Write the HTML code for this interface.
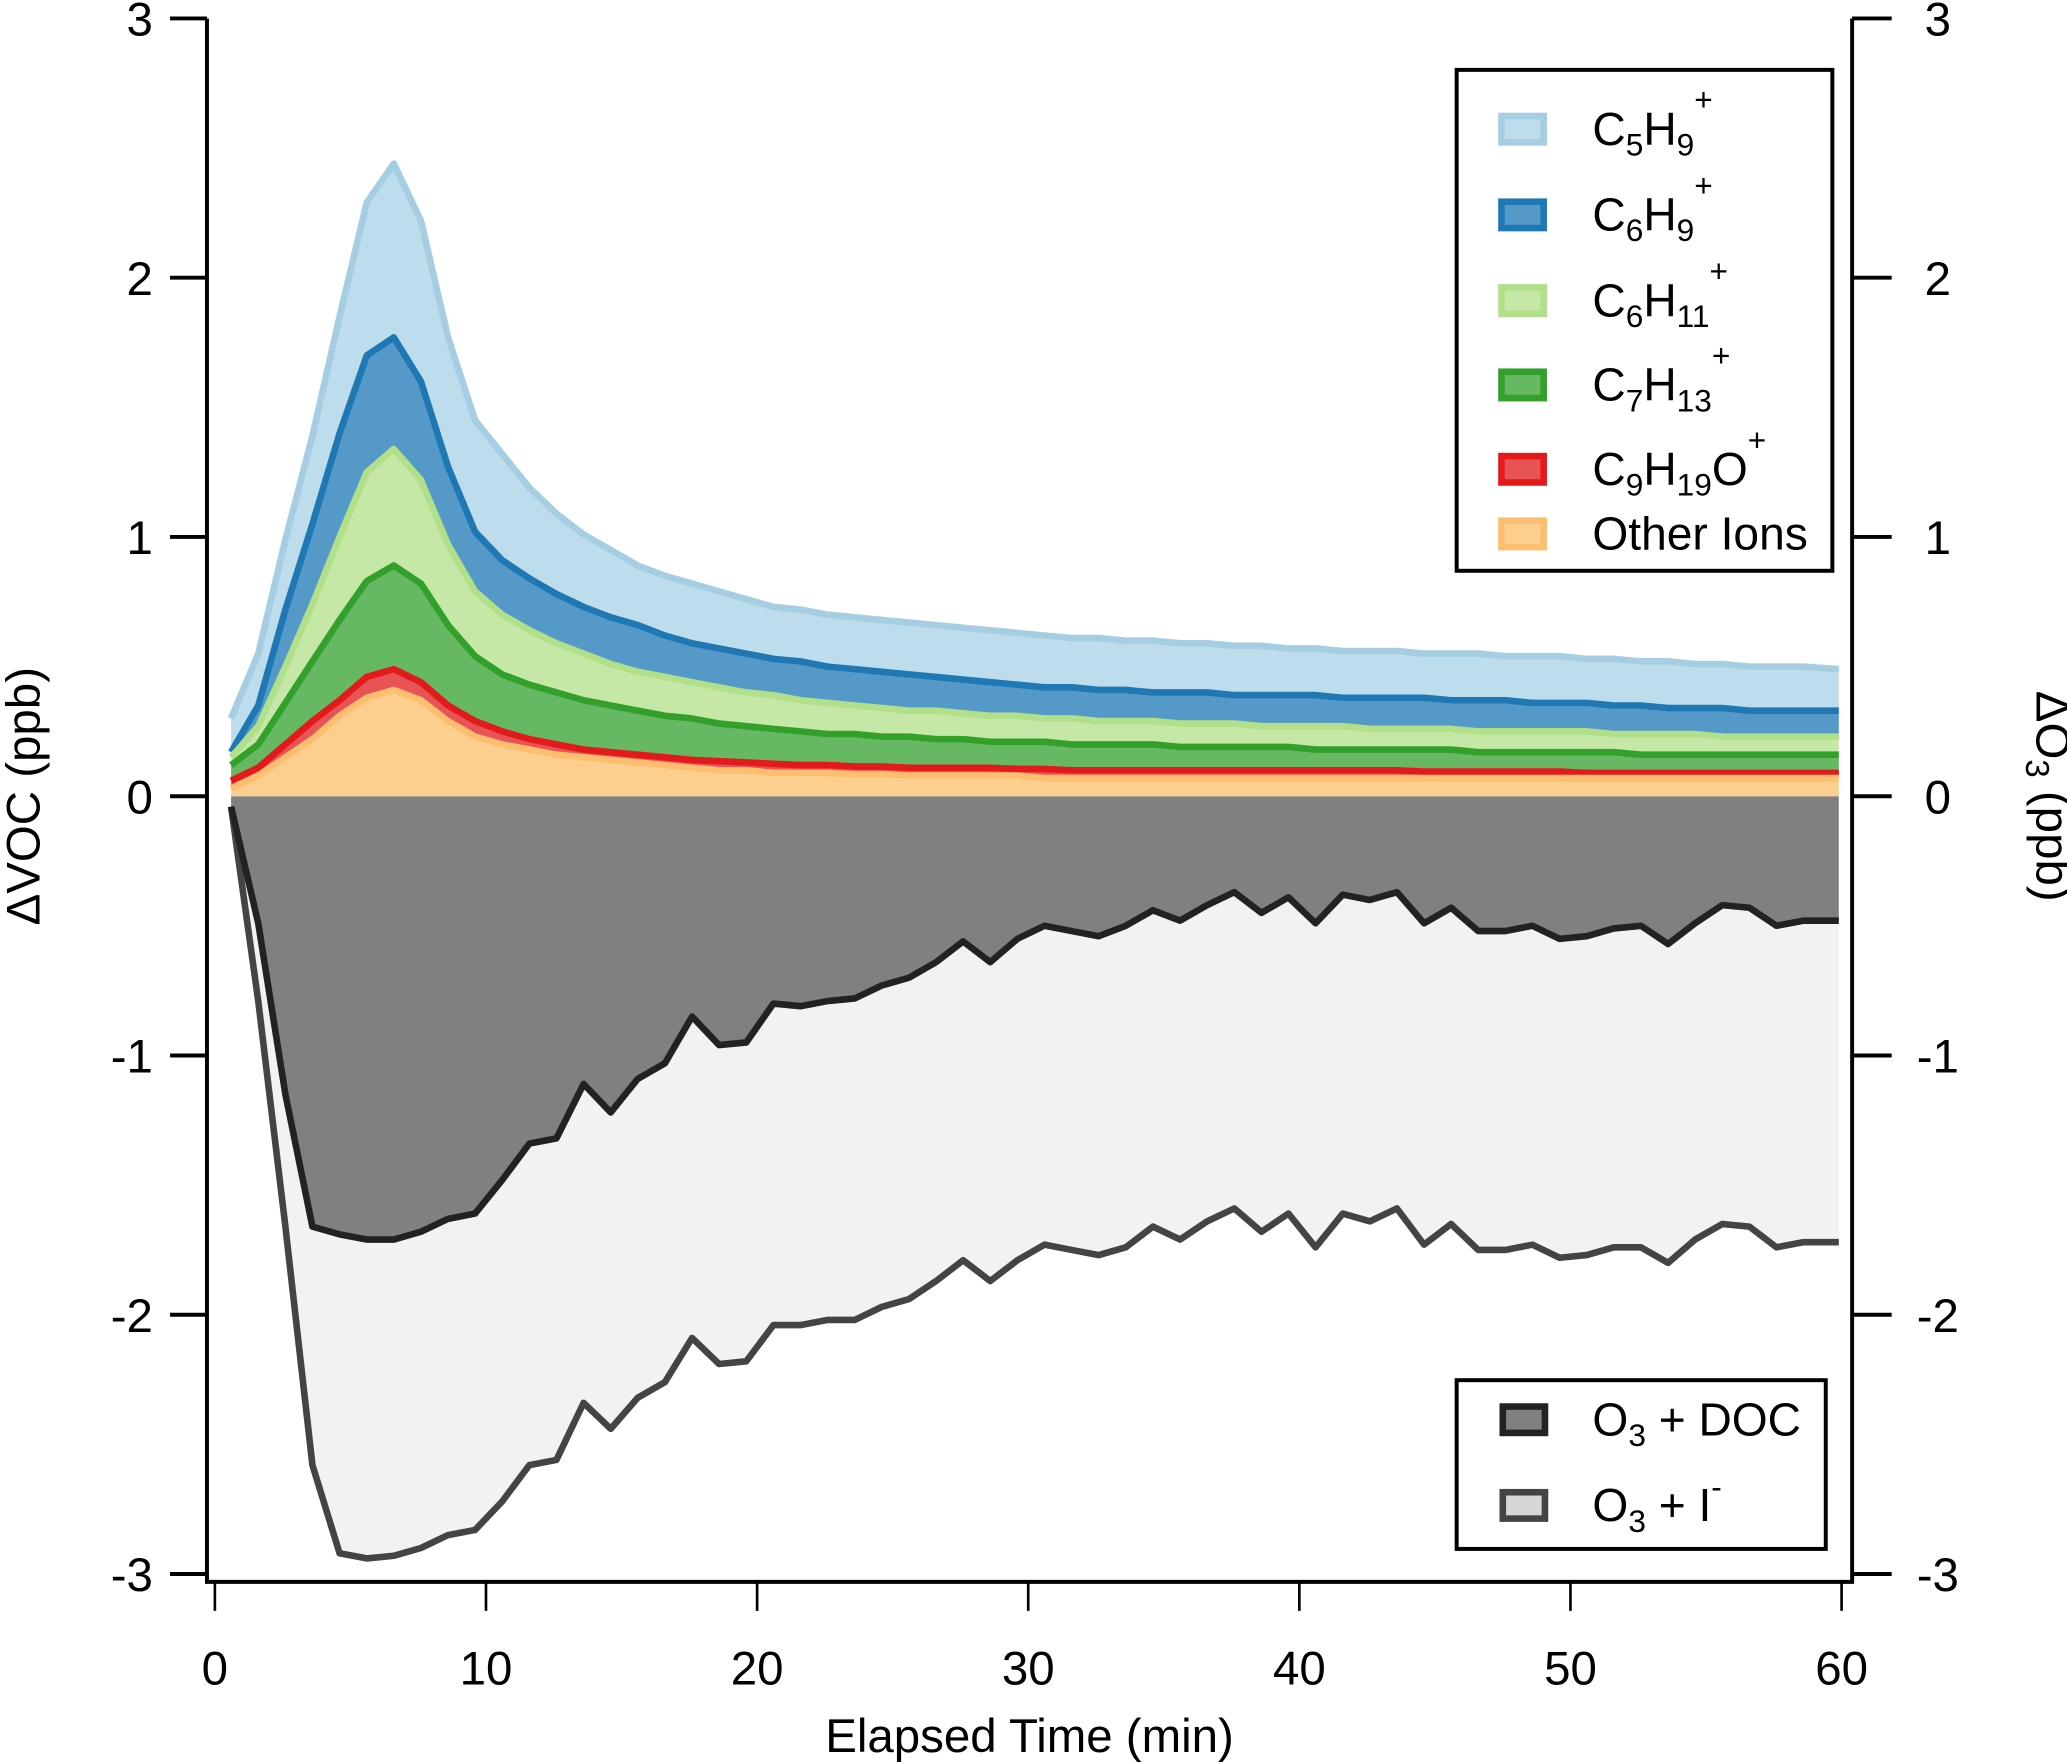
<!DOCTYPE html>
<html><head><meta charset="utf-8"><style>
html,body{margin:0;padding:0;background:#fff}
svg{display:block;font-family:"Liberation Sans",Arial,sans-serif}
</style></head><body>
<svg id="chart" width="2067" height="1763" viewBox="0 0 1568 1337.4" preserveAspectRatio="none" xmlns="http://www.w3.org/2000/svg">
<g id="areas"></g>
<g id="axes"></g>
<g>
 <rect x="1105" y="53" width="285" height="380" fill="#fff" stroke="#000" stroke-width="3"/>
 <g font-size="35" fill="#000">
  <rect x="1139" y="88" width="32" height="20" fill="#bddcec" stroke="#a6cee3" stroke-width="5"/>
  <text x="1208" y="110">C<tspan font-size="24" dy="8">5</tspan><tspan dy="-8">H</tspan><tspan font-size="24" dy="8">9</tspan><tspan font-size="24" dy="-34">+</tspan></text>
  <rect x="1139" y="153" width="32" height="20" fill="#5599c8" stroke="#1f78b4" stroke-width="5"/>
  <text x="1208" y="175">C<tspan font-size="24" dy="8">6</tspan><tspan dy="-8">H</tspan><tspan font-size="24" dy="8">9</tspan><tspan font-size="24" dy="-34">+</tspan></text>
  <rect x="1139" y="218" width="32" height="20" fill="#c6e8a6" stroke="#b2df8a" stroke-width="5"/>
  <text x="1208" y="240">C<tspan font-size="24" dy="8">6</tspan><tspan dy="-8">H</tspan><tspan font-size="24" dy="8">11</tspan><tspan font-size="24" dy="-34">+</tspan></text>
  <rect x="1139" y="282" width="32" height="20" fill="#66b962" stroke="#33a02c" stroke-width="5"/>
  <text x="1208" y="304">C<tspan font-size="24" dy="8">7</tspan><tspan dy="-8">H</tspan><tspan font-size="24" dy="8">13</tspan><tspan font-size="24" dy="-34">+</tspan></text>
  <rect x="1139" y="346" width="32" height="20" fill="#e85355" stroke="#e31a1c" stroke-width="5"/>
  <text x="1208" y="368">C<tspan font-size="24" dy="8">9</tspan><tspan dy="-8">H</tspan><tspan font-size="24" dy="8">19</tspan><tspan dy="-8">O</tspan><tspan font-size="24" dy="-26">+</tspan></text>
  <rect x="1139" y="395" width="32" height="20" fill="#fccf8f" stroke="#fdbf6f" stroke-width="5"/>
  <text x="1208" y="417">Other Ions</text>
 </g>
</g>
<g>
 <rect x="1105" y="1047" width="280" height="128" fill="#fff" stroke="#000" stroke-width="3"/>
 <g font-size="35" fill="#000">
  <rect x="1140" y="1067" width="32" height="20" fill="#808080" stroke="#222" stroke-width="5"/>
  <text x="1208" y="1089">O<tspan font-size="24" dy="8">3</tspan><tspan dy="-8"> + DOC</tspan></text>
  <rect x="1140" y="1132" width="32" height="20" fill="#d6d6d6" stroke="#444" stroke-width="5"/>
  <text x="1208" y="1154">O<tspan font-size="24" dy="8">3</tspan><tspan dy="-8"> + I</tspan><tspan font-size="24" dy="-18">-</tspan></text>
 </g>
</g>
</svg>
<script>
const times = [0.6,1.6,2.6,3.6,4.6,5.6,6.6,7.6,8.6,9.6,10.6,11.6,12.6,13.6,14.6,15.6,16.6,17.6,18.6,19.6,20.6,21.6,22.6,23.6,24.6,25.6,26.6,27.6,28.6,29.6,30.6,31.6,32.6,33.6,34.6,35.6,36.6,37.6,38.6,39.6,40.6,41.6,42.6,43.6,44.6,45.6,46.6,47.6,48.6,49.6,50.6,51.6,52.6,53.6,54.6,55.6,56.6,57.6,58.6,59.9];
const topC5H9 = [0.30,0.55,0.99,1.39,1.85,2.29,2.44,2.22,1.77,1.45,1.32,1.19,1.09,1.01,0.95,0.89,0.85,0.82,0.79,0.76,0.73,0.72,0.70,0.69,0.68,0.67,0.66,0.65,0.64,0.63,0.62,0.61,0.61,0.60,0.60,0.59,0.59,0.58,0.58,0.57,0.57,0.56,0.56,0.56,0.55,0.55,0.55,0.54,0.54,0.54,0.53,0.53,0.52,0.52,0.51,0.51,0.50,0.50,0.50,0.49];
const topC6H9 = [0.17,0.35,0.72,1.05,1.40,1.70,1.77,1.60,1.27,1.02,0.91,0.84,0.78,0.73,0.69,0.66,0.62,0.59,0.57,0.55,0.53,0.52,0.50,0.49,0.48,0.47,0.46,0.45,0.44,0.43,0.42,0.42,0.41,0.41,0.40,0.40,0.40,0.39,0.39,0.39,0.39,0.38,0.38,0.38,0.38,0.37,0.37,0.37,0.36,0.36,0.36,0.35,0.35,0.34,0.34,0.34,0.33,0.33,0.33,0.33];
const topC6H11 = [0.15,0.27,0.50,0.74,1.00,1.25,1.34,1.22,0.97,0.79,0.70,0.64,0.59,0.55,0.51,0.48,0.46,0.44,0.42,0.40,0.39,0.37,0.36,0.35,0.34,0.33,0.33,0.32,0.31,0.31,0.30,0.30,0.29,0.29,0.29,0.28,0.28,0.28,0.27,0.27,0.27,0.27,0.26,0.26,0.26,0.26,0.25,0.25,0.25,0.25,0.25,0.24,0.24,0.24,0.24,0.23,0.23,0.23,0.23,0.23];
const topC7H13 = [0.12,0.20,0.36,0.52,0.68,0.83,0.89,0.82,0.66,0.54,0.47,0.43,0.40,0.37,0.35,0.33,0.31,0.30,0.28,0.27,0.26,0.25,0.24,0.24,0.23,0.23,0.22,0.22,0.21,0.21,0.21,0.20,0.20,0.20,0.20,0.19,0.19,0.19,0.19,0.19,0.18,0.18,0.18,0.18,0.18,0.18,0.17,0.17,0.17,0.17,0.17,0.17,0.16,0.16,0.16,0.16,0.16,0.16,0.16,0.16];
const topC9H19O = [0.06,0.11,0.20,0.29,0.37,0.46,0.49,0.44,0.35,0.29,0.25,0.22,0.20,0.18,0.17,0.16,0.15,0.14,0.135,0.13,0.125,0.12,0.12,0.115,0.115,0.11,0.11,0.11,0.11,0.105,0.105,0.10,0.10,0.10,0.10,0.10,0.10,0.10,0.10,0.10,0.10,0.10,0.10,0.10,0.095,0.095,0.095,0.095,0.095,0.095,0.09,0.09,0.09,0.09,0.09,0.09,0.09,0.09,0.09,0.09];
const topOther = [0.03,0.08,0.15,0.22,0.31,0.38,0.41,0.37,0.29,0.23,0.20,0.18,0.16,0.15,0.14,0.13,0.12,0.11,0.10,0.10,0.09,0.09,0.09,0.085,0.085,0.08,0.08,0.08,0.08,0.08,0.07,0.07,0.07,0.07,0.07,0.07,0.07,0.07,0.07,0.07,0.07,0.07,0.07,0.07,0.07,0.07,0.07,0.07,0.07,0.07,0.07,0.07,0.07,0.07,0.07,0.07,0.07,0.07,0.07,0.07];
const o3Doc = [-0.04,-0.49,-1.15,-1.66,-1.69,-1.71,-1.71,-1.68,-1.63,-1.61,-1.48,-1.34,-1.32,-1.11,-1.22,-1.09,-1.03,-0.85,-0.96,-0.95,-0.80,-0.81,-0.79,-0.78,-0.73,-0.70,-0.64,-0.56,-0.64,-0.55,-0.50,-0.52,-0.54,-0.50,-0.44,-0.48,-0.42,-0.37,-0.45,-0.39,-0.49,-0.38,-0.40,-0.37,-0.49,-0.43,-0.52,-0.52,-0.50,-0.55,-0.54,-0.51,-0.50,-0.57,-0.49,-0.42,-0.43,-0.50,-0.48,-0.48];
const o3Iodide = [-0.04,-0.79,-1.66,-2.58,-2.92,-2.94,-2.93,-2.90,-2.85,-2.83,-2.72,-2.58,-2.56,-2.34,-2.44,-2.32,-2.26,-2.09,-2.19,-2.18,-2.04,-2.04,-2.02,-2.02,-1.97,-1.94,-1.87,-1.79,-1.87,-1.79,-1.73,-1.75,-1.77,-1.74,-1.66,-1.71,-1.64,-1.59,-1.68,-1.61,-1.74,-1.61,-1.64,-1.59,-1.73,-1.65,-1.75,-1.75,-1.73,-1.78,-1.77,-1.74,-1.74,-1.80,-1.71,-1.65,-1.66,-1.74,-1.72,-1.72];
const xTicks = [0,10,20,30,40,50,60];
const yTicks = [3,2,1,0,-1,-2,-3];

const NS = "http://www.w3.org/2000/svg";
function xs(t){ return 163 + t*(1234/60); }
function ys(v){ return 604 - v*196.67; }
function mk(tag, attrs, parent){ const e=document.createElementNS(NS,tag); for(const k in attrs) e.setAttribute(k,attrs[k]); parent.appendChild(e); return e; }
function linePts(arr){ return arr.map((v,i)=>xs(times[i]).toFixed(1)+","+ys(v).toFixed(1)); }
function bandPath(top, bottom){
  const a = linePts(top);
  const b = bottom ? linePts(bottom).reverse() : [xs(times[times.length-1]).toFixed(1)+","+ys(0), xs(times[0]).toFixed(1)+","+ys(0)];
  return "M"+a.join("L")+"L"+b.join("L")+"Z";
}
const areas = document.getElementById('areas');
const axes = document.getElementById('axes');

const pI = mk('path',{d:bandPath(o3Iodide,o3Doc),fill:'#f2f2f2'},areas);


const pD = mk('path',{d:bandPath(o3Doc,null),fill:'#808080'},areas);


const lI = mk('polyline',{points:linePts(o3Iodide).join(' '),fill:'none',stroke:'#444','stroke-width':5,'stroke-linejoin':'round'},areas);


const lD = mk('polyline',{points:linePts(o3Doc).join(' '),fill:'none',stroke:'#222','stroke-width':5,'stroke-linejoin':'round'},areas);



const layers = [
  {top:topC5H9, bot:topC6H9, fill:'#bddcec', stroke:'#a6cee3', name:'c5h9'},
  {top:topC6H9, bot:topC6H11, fill:'#5599c8', stroke:'#1f78b4', name:'c6h9'},
  {top:topC6H11, bot:topC7H13, fill:'#c6e8a6', stroke:'#b2df8a', name:'c6h11'},
  {top:topC7H13, bot:topC9H19O, fill:'#66b962', stroke:'#33a02c', name:'c7h13'},
  {top:topC9H19O, bot:topOther, fill:'#e85355', stroke:'#e31a1c', name:'c9h19o'},
  {top:topOther, bot:null, fill:'#fccf8f', stroke:'#fdbf6f', name:'other-ions'}
];
layers.forEach(L=>{
  const p = mk('path',{d:bandPath(L.top,L.bot),fill:L.fill},areas);
  
  
});
layers.forEach(L=>{
  const l = mk('polyline',{points:linePts(L.top).join(' '),fill:'none',stroke:L.stroke,'stroke-width':5,'stroke-linejoin':'round'},areas);
  
  
});

const fr = mk('path',{d:'M157,14 L157,1200 L1405,1200 L1405,14',fill:'none',stroke:'#000','stroke-width':3},axes);


yTicks.forEach(v=>{
  const y = ys(v);
  const t1 = mk('line',{x1:129,x2:157,y1:y,y2:y,stroke:'#000','stroke-width':3},axes);
  
  
  const t2 = mk('line',{x1:1405,x2:1435,y1:y,y2:y,stroke:'#000','stroke-width':3},axes);
  
  
  const a = mk('text',{x:116,y:y+13,'font-size':36,'text-anchor':'end'},axes);
  a.textContent = String(v);
  
  
  const b = mk('text',{x:1470,y:y+13,'font-size':36,'text-anchor':'middle'},axes);
  b.textContent = String(v);
  
  
});
xTicks.forEach(v=>{
  const x = xs(v);
  const t = mk('line',{x1:x,x2:x,y1:1200,y2:1222,stroke:'#000','stroke-width':2},axes);
  
  
  const l = mk('text',{x:x,y:1278,'font-size':36,'text-anchor':'middle'},axes);
  l.textContent = String(v);
  
  
});
const xt = mk('text',{x:781,y:1329,'font-size':36,'text-anchor':'middle'},axes);
xt.textContent = 'Elapsed Time (min)';


const yl = mk('text',{x:0,y:0,'font-size':36,'text-anchor':'middle',transform:'translate(30,604) rotate(-90)'},axes);
yl.textContent = 'ΔVOC (ppb)';


const yr = mk('text',{x:0,y:0,'font-size':36,'text-anchor':'middle',transform:'translate(1545,604) rotate(90)'},axes);
yr.innerHTML = 'ΔO<tspan font-size="25" dy="8">3</tspan><tspan dy="-8"> (ppb)</tspan>';


</script>
</body></html>
